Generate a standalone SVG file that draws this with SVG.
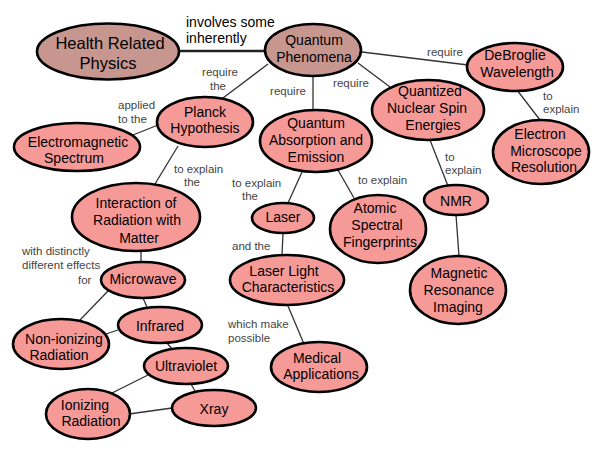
<svg xmlns="http://www.w3.org/2000/svg" width="600" height="456" viewBox="0 0 600 456">
<style>
  .n ellipse { fill: #f69a98; stroke: #000; stroke-width: 2.6; }
  .n.top ellipse { fill: #c7968f; }
  .n text { font-family: "Liberation Sans", Arial, sans-serif; font-size: 14px; fill: #000; text-anchor: middle; }
  #connectors line { stroke: #333; stroke-width: 1.3; }
  .lbl { font-family: "Liberation Sans", Arial, sans-serif; font-size: 11.5px; fill: #444; }
  .lbl.c { text-anchor: middle; }
</style>
<rect width="600" height="456" fill="#fff"/>
<g id="connectors">
  <line x1="179" y1="51" x2="265" y2="51" style="stroke-width:2.6;stroke:#222"/>
  <line x1="268" y1="64" x2="223" y2="98"/>
  <line x1="313" y1="76" x2="313" y2="110"/>
  <line x1="358" y1="63" x2="390" y2="87"/>
  <line x1="362" y1="52" x2="468" y2="65"/>
  <line x1="517" y1="90" x2="540" y2="120"/>
  <line x1="430" y1="140" x2="448" y2="186"/>
  <line x1="456" y1="215" x2="459" y2="256"/>
  <line x1="302" y1="172" x2="288" y2="203"/>
  <line x1="338" y1="170" x2="354" y2="198"/>
  <line x1="283" y1="233" x2="282" y2="255"/>
  <line x1="288" y1="306" x2="304" y2="344"/>
  <line x1="158" y1="125" x2="133" y2="135"/>
  <line x1="178" y1="146" x2="155" y2="184"/>
  <line x1="141" y1="251" x2="141" y2="262"/>
  <line x1="108" y1="291" x2="80" y2="320"/>
  <line x1="143" y1="298" x2="147" y2="307"/>
  <line x1="118" y1="330" x2="106" y2="334"/>
  <line x1="167" y1="343" x2="172" y2="349"/>
  <line x1="148" y1="375" x2="112" y2="393"/>
  <line x1="191" y1="384" x2="195" y2="391"/>
  <line x1="129" y1="414" x2="172" y2="408"/>
</g>
<g id="labels">
  <text class="lbl" x="186" y="27" style="font-size:14px;fill:#000">involves some</text>
  <text class="lbl" x="186" y="43" style="font-size:14px;fill:#000">inherently</text>
  <text class="lbl c" x="220" y="76">require</text>
  <text class="lbl c" x="218" y="90">the</text>
  <text class="lbl c" x="288" y="95">require</text>
  <text class="lbl c" x="351" y="87">require</text>
  <text class="lbl c" x="445" y="56">require</text>
  <text class="lbl" x="543" y="100">to</text>
  <text class="lbl" x="543" y="113">explain</text>
  <text class="lbl" x="445" y="161">to</text>
  <text class="lbl" x="445" y="174">explain</text>
  <text class="lbl" x="232" y="187">to explain</text>
  <text class="lbl" x="242" y="200">the</text>
  <text class="lbl" x="358" y="184">to explain</text>
  <text class="lbl" x="232" y="250">and the</text>
  <text class="lbl" x="228" y="328">which make</text>
  <text class="lbl" x="228" y="342">possible</text>
  <text class="lbl" x="118" y="109">applied</text>
  <text class="lbl" x="118" y="123">to the</text>
  <text class="lbl" x="174" y="173">to explain</text>
  <text class="lbl" x="184" y="186">the</text>
  <text class="lbl" x="22" y="255">with distinctly</text>
  <text class="lbl" x="22" y="269">different effects</text>
  <text class="lbl" x="78" y="284">for</text>
</g>
<g id="health" class="n top"><ellipse cx="108" cy="51.5" rx="71" ry="28"/><text x="110" y="49" style="font-size:16.5px">Health Related</text><text x="108" y="69" style="font-size:16.5px">Physics</text></g>
<g id="quantum" class="n top"><ellipse cx="313" cy="50" rx="48" ry="26"/><text x="314" y="45">Quantum</text><text x="314" y="62">Phenomena</text></g>
<g id="planck" class="n"><ellipse cx="205" cy="122" rx="48" ry="25"/><text x="205" y="117">Planck</text><text x="205" y="133">Hypothesis</text></g>
<g id="em" class="n"><ellipse cx="77" cy="147" rx="63" ry="24"/><text x="78" y="147">Electromagnetic</text><text x="74" y="163">Spectrum</text></g>
<g id="interaction" class="n"><ellipse cx="136" cy="217" rx="64" ry="34"/><text x="136" y="208">Interaction of</text><text x="137" y="225">Radiation with</text><text x="139" y="243">Matter</text></g>
<g id="microwave" class="n"><ellipse cx="143" cy="280" rx="42" ry="18"/><text x="143" y="284">Microwave</text></g>
<g id="infrared" class="n"><ellipse cx="160" cy="325" rx="42" ry="18"/><text x="160" y="331">Infrared</text></g>
<g id="nonionizing" class="n"><ellipse cx="61" cy="344" rx="48" ry="25"/><text x="64" y="344">Non-ionizing</text><text x="59" y="360">Radiation</text></g>
<g id="ultraviolet" class="n"><ellipse cx="186" cy="366" rx="42" ry="18"/><text x="186" y="371">Ultraviolet</text></g>
<g id="ionizing" class="n"><ellipse cx="88" cy="414" rx="42" ry="25"/><text x="85" y="410">Ionizing</text><text x="91" y="426">Radiation</text></g>
<g id="xray" class="n"><ellipse cx="214" cy="408" rx="42" ry="18"/><text x="214" y="414">Xray</text></g>
<g id="qae" class="n"><ellipse cx="316" cy="141" rx="56" ry="31"/><text x="316" y="128">Quantum</text><text x="316" y="145">Absorption and</text><text x="316" y="162">Emission</text></g>
<g id="laser" class="n"><ellipse cx="283" cy="218" rx="31" ry="15"/><text x="283" y="222">Laser</text></g>
<g id="atomic" class="n"><ellipse cx="378" cy="229" rx="48" ry="34"/><text x="375" y="213">Atomic</text><text x="377" y="230">Spectral</text><text x="380" y="247">Fingerprints</text></g>
<g id="llc" class="n"><ellipse cx="287" cy="280" rx="57" ry="25"/><text x="284" y="276">Laser Light</text><text x="288" y="292">Characteristics</text></g>
<g id="medical" class="n"><ellipse cx="319" cy="367" rx="48" ry="25"/><text x="317" y="363">Medical</text><text x="321" y="379">Applications</text></g>
<g id="nmr" class="n"><ellipse cx="456" cy="200" rx="32" ry="15"/><text x="456" y="206">NMR</text></g>
<g id="mri" class="n"><ellipse cx="458" cy="290" rx="48" ry="34"/><text x="459" y="278">Magnetic</text><text x="459" y="295">Resonance</text><text x="458" y="312">Imaging</text></g>
<g id="qnse" class="n"><ellipse cx="428" cy="110" rx="56" ry="30"/><text x="430" y="96">Quantized</text><text x="427" y="113">Nuclear Spin</text><text x="433" y="130">Energies</text></g>
<g id="debroglie" class="n"><ellipse cx="515" cy="67" rx="48" ry="24"/><text x="515" y="60">DeBroglie</text><text x="517" y="77">Wavelength</text></g>
<g id="electron" class="n"><ellipse cx="541" cy="152" rx="48" ry="32"/><text x="540" y="139">Electron</text><text x="546" y="156">Microscope</text><text x="544" y="172">Resolution</text></g>
</svg>
